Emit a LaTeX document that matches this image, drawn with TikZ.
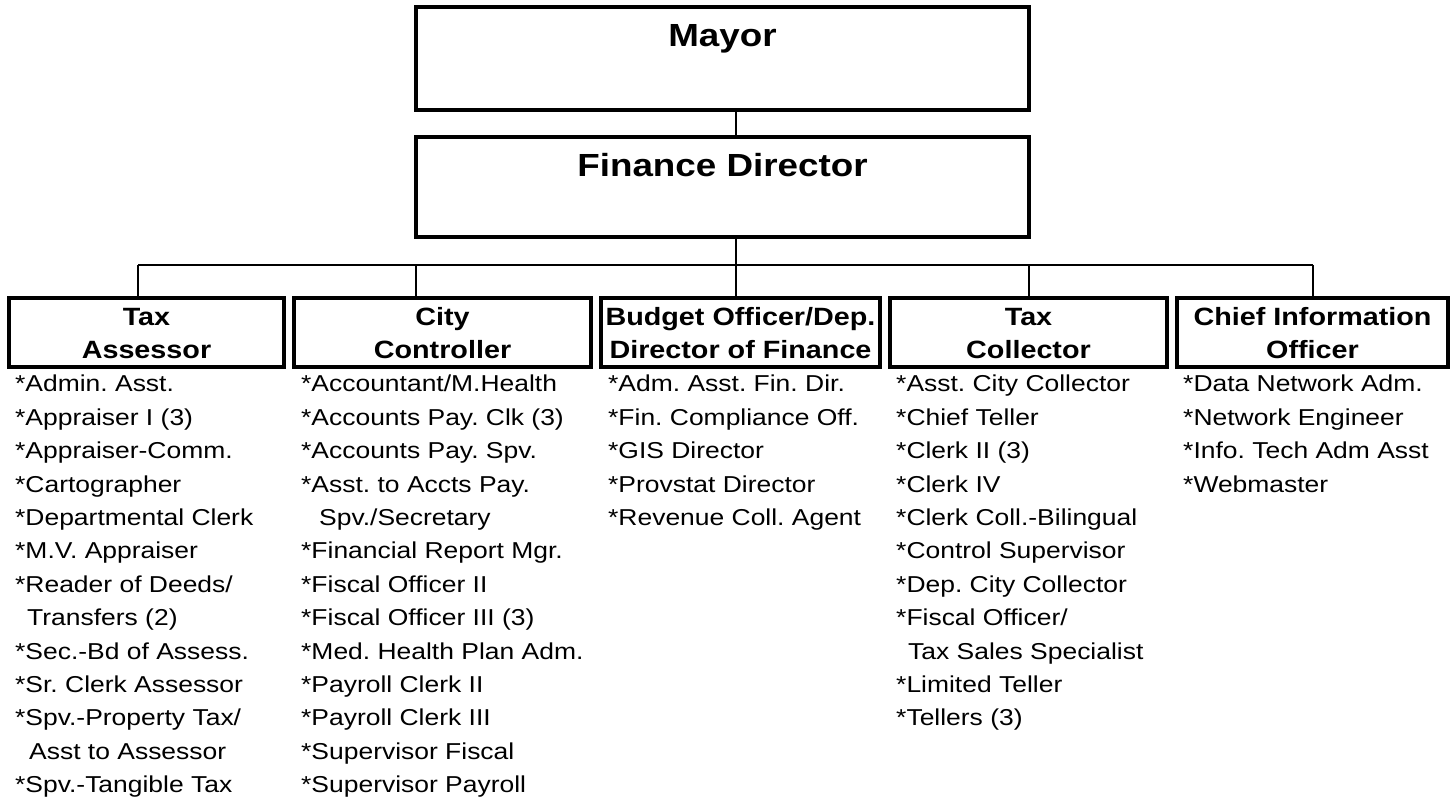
\documentclass[tikz,border=0pt]{standalone}
\usepackage{fontspec}
\setmainfont{Liberation Sans}[FakeStretch=1.15]
\usetikzlibrary{positioning}
\frenchspacing

\begin{document}
\begin{tikzpicture}[
  x=1pt,y=-1pt,
  node distance=10pt,
  chief/.style ={draw,line width=3.5pt,minimum width=613pt,inner sep=0pt,outer sep=0pt,
                 text height=40pt,font=\fontsize{32}{38}\selectfont\bfseries},
  dept/.style  ={draw,line width=3.5pt,align=center,inner sep=0pt,outer sep=0pt,
                 text height=60pt,text depth=9pt,
                 font=\fontsize{25}{33}\selectfont\bfseries},
  staff/.style ={align=left,inner sep=0pt,anchor=north west,
                 font=\fontsize{23}{33.4}\selectfont},
  link/.style  ={line width=1.4pt}]

\useasboundingbox (0,0) rectangle (1455,799);

% ---------- top ----------
\node[chief,text depth=63pt,anchor=north] (mayor) at (722.5,7) {Mayor};
\node[chief,text depth=60pt,below=27pt of mayor] (fd) {Finance Director};

\coordinate (spine) at (736,0);
\coordinate (busl) at (138,265);
\coordinate (busr) at (1313,265);

% ---------- departments ----------
\node[dept,minimum width=275pt,anchor=north west] (ta) at (9,298) {Tax\\Assessor};
\node[dept,minimum width=297pt,right=of ta] (cc) {City\\Controller};
\node[dept,minimum width=279pt,right=of cc] (bo) {Budget Officer/Dep.\\Director of Finance};
\node[dept,minimum width=277pt,right=of bo] (tc) {Tax\\Collector};
\node[dept,minimum width=271pt,right=of tc] (cio) {Chief Information\\Officer};

\draw[link] (mayor.south -| spine) -- (fd.north -| spine);
\draw[link] (fd.south -| spine) -- (busl -| spine);
\draw[link] (busl) -- (busr);
\draw[link] (busl) -- (ta.north -| busl);
\draw[link] (busl -| fd.west) -- (cc.north -| fd.west);
\draw[link] (busl -| spine) -- (bo.north -| spine);
\draw[link] (busl -| fd.east) -- (tc.north -| fd.east);
\draw[link] (busr) -- (cio.north -| busr);

% ---------- staff lists ----------
\node[staff,xshift=6pt,yshift=-8pt] (tastaff) at (ta.south west)
  {*Admin. Asst.\\*Appraiser I (3)\\*Appraiser-Comm.\\*Cartographer\\
   *Departmental Clerk\\*M.V. Appraiser\\*Reader of Deeds/\\
   \hspace*{12pt}Transfers (2)\\*Sec.-Bd of Assess.\\*Sr. Clerk Assessor\\
   *Spv.-Property Tax/\\\hspace*{14pt}Asst to Assessor\\*Spv.-Tangible Tax};
\node[staff,xshift=7pt,yshift=-8pt] (ccstaff) at (cc.south west)
  {*Accountant/M.Health\\*Accounts Pay. Clk (3)\\*Accounts Pay. Spv.\\
   *Asst. to Accts Pay.\\\hspace*{18pt}Spv./Secretary\\*Financial Report Mgr.\\
   *Fiscal Officer II\\*Fiscal Officer III (3)\\*Med. Health Plan Adm.\\
   *Payroll Clerk II\\*Payroll Clerk III\\*Supervisor Fiscal\\*Supervisor Payroll};
\node[staff,xshift=7pt,yshift=-8pt] (bostaff) at (bo.south west)
  {*Adm. Asst. Fin. Dir.\\*Fin. Compliance Off.\\*GIS Director\\
   *Provstat Director\\*Revenue Coll. Agent};
\node[staff,xshift=6pt,yshift=-8pt] (tcstaff) at (tc.south west)
  {*Asst. City Collector\\*Chief Teller\\*Clerk II (3)\\*Clerk IV\\
   *Clerk Coll.-Bilingual\\*Control Supervisor\\*Dep. City Collector\\
   *Fiscal Officer/\\\hspace*{12pt}Tax Sales Specialist\\*Limited Teller\\*Tellers (3)};
\node[staff,xshift=6pt,yshift=-8pt] (ciostaff) at (cio.south west)
  {*Data Network Adm.\\*Network Engineer\\*Info. Tech Adm Asst\\*Webmaster};

\end{tikzpicture}
\end{document}
